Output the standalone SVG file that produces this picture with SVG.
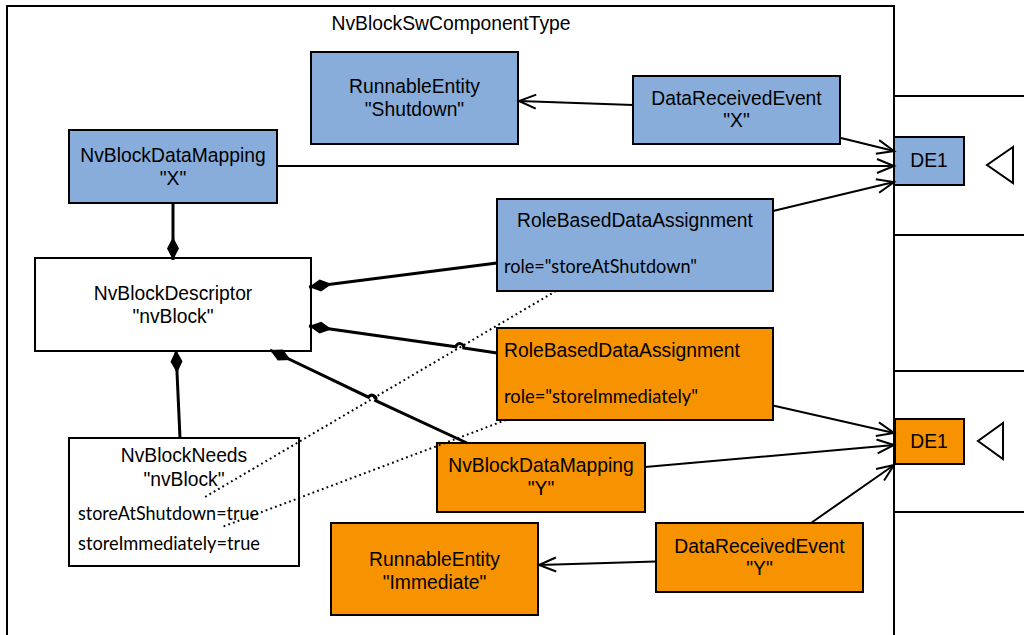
<svg xmlns="http://www.w3.org/2000/svg" width="1024" height="635" viewBox="0 0 1024 635">
<defs>
<style>
.t{font-family:"Liberation Sans",Arial,sans-serif;font-size:19.3px;fill:#000;text-anchor:middle}
.c{font-family:Lato,"Open Sans",sans-serif;font-size:19px;fill:#000}
.blue{fill:#88ADDB;stroke:#000;stroke-width:2}
.orange{fill:#F79200;stroke:#000;stroke-width:2}
.white{fill:#fff;stroke:#000;stroke-width:2}
.ln{fill:none;stroke:#000;stroke-width:2}
.arr{fill:none;stroke:#000;stroke-width:2;marker-end:url(#open)}
.comp{fill:none;stroke:#000;stroke-width:3;marker-start:url(#diamond)}
.dot{fill:none;stroke:#000;stroke-width:2;stroke-dasharray:1.8 3.2}
</style>
<marker id="open" markerUnits="userSpaceOnUse" markerWidth="22" markerHeight="18" refX="19" refY="8" orient="auto" viewBox="0 0 22 18">
<path d="M2,1 L19,8 L2,15" fill="none" stroke="#000" stroke-width="2"/>
</marker>
<marker id="diamond" markerUnits="userSpaceOnUse" markerWidth="25" markerHeight="14" refX="0" refY="6.5" orient="auto" viewBox="0 0 25 14">
<path d="M0,6.5 L11.5,0.5 L23,6.5 L11.5,12.5 Z" fill="#000"/>
</marker>
</defs>

<g id="frame">
<path class="ln" d="M7,636 L7,6 L894,6 L894,636"/>
<text class="t" x="451" y="30">NvBlockSwComponentType</text>
</g>

<g id="port-upper">
<path class="ln" d="M894,96 L1025,96 M894,235 L1025,235"/>
<rect class="blue" x="894" y="137" width="70" height="48"/>
<text class="t" x="929" y="167">DE1</text>
<path class="ln" d="M1013,147 L987,165 L1013,183 Z"/>
</g>

<g id="port-lower">
<path class="ln" d="M894,371 L1025,371 M894,512 L1025,512"/>
<rect class="orange" x="895" y="419" width="69" height="45"/>
<text class="t" x="929" y="448">DE1</text>
<path class="ln" d="M1003,423 L978,441 L1003,459 Z"/>
</g>

<g id="re-shutdown">
<rect class="blue" x="311" y="52" width="207" height="92"/>
<text class="t" x="414.5" y="93">RunnableEntity</text>
<text class="t" x="414.5" y="116">"Shutdown"</text>
</g>

<g id="dre-x">
<rect class="blue" x="633" y="76" width="207" height="68"/>
<text class="t" x="736.5" y="104.5">DataReceivedEvent</text>
<text class="t" x="736.5" y="126.5">"X"</text>
</g>

<g id="nbdm-x">
<rect class="blue" x="69" y="130" width="208" height="73"/>
<text class="t" x="173" y="162">NvBlockDataMapping</text>
<text class="t" x="173" y="184.5">"X"</text>
</g>

<g id="rbda-shutdown">
<rect class="blue" x="497" y="199" width="276" height="92"/>
<text class="t" x="635" y="227">RoleBasedDataAssignment</text>
<text class="c" x="504" y="273" textLength="193" lengthAdjust="spacingAndGlyphs">role="storeAtShutdown"</text>
</g>

<g id="descriptor">
<rect class="white" x="35" y="258" width="276" height="93"/>
<text class="t" x="173" y="300">NvBlockDescriptor</text>
<text class="t" x="173" y="323">"nvBlock"</text>
</g>

<g id="rbda-immediately">
<rect class="orange" x="497" y="328" width="276" height="92"/>
<text class="t" x="504" y="357" style="text-anchor:start">RoleBasedDataAssignment</text>
<text class="c" x="504" y="403" textLength="194" lengthAdjust="spacingAndGlyphs">role="storeImmediately"</text>
</g>

<g id="needs">
<rect class="white" x="69" y="438" width="230" height="128"/>
<text class="t" x="184" y="462">NvBlockNeeds</text>
<text class="t" x="184" y="485.5">"nvBlock"</text>
<text class="c" x="78" y="520" textLength="181" lengthAdjust="spacingAndGlyphs">storeAtShutdown=true</text>
<text class="c" x="78" y="550" textLength="182" lengthAdjust="spacingAndGlyphs">storeImmediately=true</text>
</g>

<g id="nbdm-y">
<rect class="orange" x="437" y="443" width="208" height="69"/>
<text class="t" x="541" y="472">NvBlockDataMapping</text>
<text class="t" x="541" y="495">"Y"</text>
</g>

<g id="re-immediate">
<rect class="orange" x="331" y="523" width="207" height="92"/>
<text class="t" x="434.5" y="566">RunnableEntity</text>
<text class="t" x="434.5" y="588.5">"Immediate"</text>
</g>

<g id="dre-y">
<rect class="orange" x="656" y="523" width="207" height="69"/>
<text class="t" x="759.5" y="553">DataReceivedEvent</text>
<text class="t" x="759.5" y="575">"Y"</text>
</g>

<g id="connectors">
<path class="arr" d="M633,105 L519,101"/>
<path class="arr" d="M841,138 L894,151"/>
<path class="arr" d="M277,166 L894,166"/>
<path class="arr" d="M773,211 L894,182"/>
<path class="arr" d="M773,405.5 L894,433"/>
<path class="arr" d="M645,467 L894,445"/>
<path class="arr" d="M811,523 L894,465"/>
<path class="arr" d="M656,561.5 L539,565"/>
<path class="comp" d="M173,260 L173,203"/>
<path class="comp" d="M309,287 L497,263"/>
<path class="comp" d="M309,326 L455.9,346.8 A4,4 0 0 1 463.8,348 L497,353"/>
<path class="comp" d="M270,350 L368.5,397.2 A4,4 0 0 1 375.7,400.6 L467,443"/>
<path class="comp" d="M176,350 L180,438"/>
<path class="dot" d="M556,291 L205,497"/>
<path class="dot" d="M506,420 L222,527"/>
</g>
</svg>
